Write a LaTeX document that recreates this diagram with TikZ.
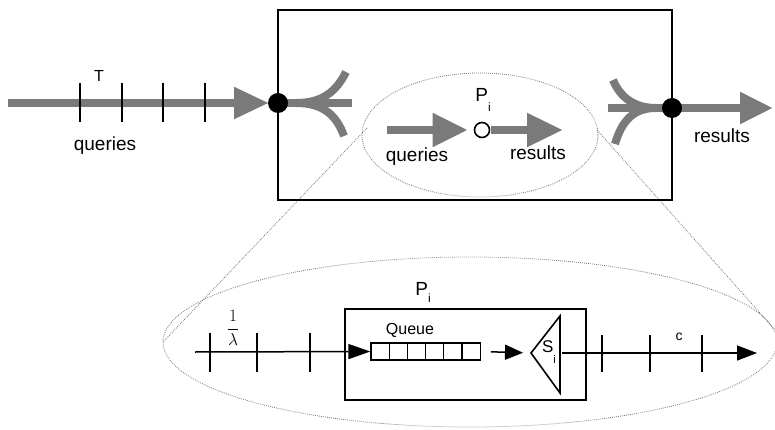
\documentclass[tikz,border=0pt]{standalone}
\usepackage{fontspec}
\setmainfont{Liberation Sans}
\usetikzlibrary{arrows.meta,shapes.geometric}
\begin{document}
\begin{tikzpicture}[x=1pt,y=-1pt,
  band/.style={draw=black!52, line width=8pt},
  bigarrow/.style={band, -{Triangle[length=35pt,width=30pt]}},
  ticka/.style={draw=black, line width=1.8pt},
  tickb/.style={draw=black, line width=1.6pt},
  dot/.style={circle, fill=black, minimum size=20pt, inner sep=0},
  proj/.style={draw=black!55, line width=0.8pt, dash pattern=on 0.8pt off 1.2pt},
  lbl/.style={font=\fontsize{19}{22}\selectfont, inner sep=0},
  thinarrow/.style={draw=black, line width=1.5pt, -{Triangle[length=22pt,width=15pt]}},
  cell/.style={draw=black, line width=1.3pt, minimum width=18.2pt, minimum height=17pt, inner sep=0},
  boxline/.style={draw=black, line width=1.6pt, inner sep=0},
]
\useasboundingbox (0,0) rectangle (775,430);

% zoom ellipses and projection lines
\node[proj, ellipse, inner sep=0, minimum width=236pt, minimum height=124pt] (zoomA) at (480,135) {};
\node[proj, ellipse, inner sep=0, minimum width=614pt, minimum height=170pt] (zoomB) at (470,342) {};
\coordinate (pa1) at (367,128);
\coordinate (pb1) at (163,342);
\coordinate (pa2) at (597,130);
\coordinate (pb2) at (776,331);
\draw[proj] (pa1) -- (pb1);
\draw[proj] (pa2) -- (pb2);

% system box
\node[boxline, minimum width=394pt, minimum height=190pt] (sys) at (475,105) {};

% incoming query stream
\coordinate (src) at (8,103);
\coordinate (dinc) at (278,103);
\draw[bigarrow, shorten >=9pt] (src) -- (dinc);
\foreach \x in {80,122,163,205} \draw[ticka] (\x,83) -- (\x,122);
\node[lbl, font=\fontsize{16}{18}\selectfont] (T) at (99,76) {T};
\node[lbl] (qlab) at (105,146) {queries};

% split fork
\coordinate (fl) at (352,103);
\draw[band] (dinc) -- (fl);
\draw[band] (296,103) .. controls (322,103) and (336,92) .. (346,72);
\draw[band] (296,103) .. controls (322,103) and (336,114) .. (344,136);
\node[dot] (din) at (dinc) {};

% merge fork and outgoing results
\coordinate (doutc) at (672,108);
\coordinate (fr) at (608,108);
\draw[band] (fr) -- (doutc);
\draw[band] (613,80) .. controls (620,97) and (634,108) .. (656,108);
\draw[band] (615,144) .. controls (622,120) and (634,108) .. (656,108);
\coordinate (sink) at (773,108);
\draw[band, -{Triangle[length=33pt,width=30pt]}] (doutc) -- (sink);
\node[dot] (dout) at (doutc) {};
\node[lbl] (rlab) at (722,136) {results};

% processor inside small ellipse
\node[circle, draw=black, line width=1.6pt, fill=white, minimum size=15pt, inner sep=0] (Pi) at (482,130) {};
\coordinate (qin) at (387,130);
\coordinate (rout) at (563,130);
\draw[band, -{Triangle[length=35pt,width=32pt]}, shorten >=6pt] (qin) -- (Pi.west);
\draw[band, -{Triangle[length=36pt,width=32pt]}, shorten <=1pt] (Pi.east) -- (rout);
\node[lbl] (Pilab) at (483,100) {P\raisebox{-10pt}{\fontsize{12}{12}\selectfont i}};
\node[lbl] (qlab2) at (417,157) {queries};
\node[lbl] (rlab2) at (538,153) {results};

% detailed processor
\node[boxline, minimum width=241pt, minimum height=91pt] (proc) at (465.5,354.5) {};
\node[lbl] (Pibig) at (423,292) {P\raisebox{-7pt}{\fontsize{12}{12}\selectfont i}};

\coordinate (tin) at (195,352);
\foreach \k in {0,...,5} \node[cell] (q\k) at ({380.1+18.2*\k},351.5) {};
\draw[thinarrow] (tin) -- (q0.west);
\foreach \x in {210,257,310} \draw[tickb] (\x,333) -- (\x,372);
\node[inner sep=0] (lam) at (233,328) {\fontsize{17}{17}\selectfont$\displaystyle\frac{1}{\lambda}$};
\node[lbl, font=\fontsize{16}{18}\selectfont] (qq) at (410,330) {Queue};

% server
\coordinate (sa) at (531,353);
\coordinate (sb) at (560,316);
\coordinate (sc) at (560,393);
\draw[draw=black, line width=1.6pt, line join=miter] (sa) -- (sb) -- (sc) -- cycle;
\draw[draw=black, line width=1.5pt, -{Triangle[length=18pt,width=15pt]}, shorten <=10pt, shorten >=8pt] (q5.east) -- (sa);
\node[lbl, font=\fontsize{17}{20}\selectfont] (Si) at (549,352) {S\raisebox{-11pt}{\fontsize{11}{11}\selectfont i}};

% output stream
\coordinate (sout) at (562,353);
\coordinate (outend) at (757,353);
\draw[thinarrow, -{Triangle[length=20pt,width=15pt]}] (sout) -- (outend);
\foreach \x in {602,650,702} \draw[tickb] (\x,335) -- (\x,372);
\node[lbl, font=\fontsize{14}{15}\selectfont] (c) at (679,337) {c};
\end{tikzpicture}
\end{document}
